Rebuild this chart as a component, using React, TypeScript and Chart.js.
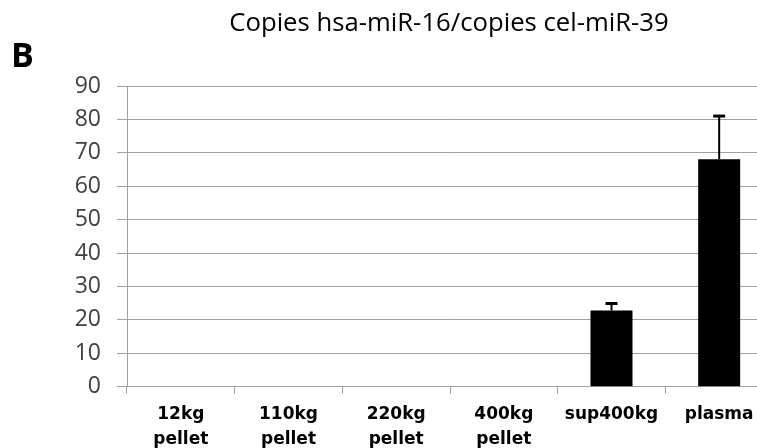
import React, { useEffect, useLayoutEffect, useRef } from 'react';
import { Chart, registerables } from 'chart.js';

Chart.register(...registerables);

// ---- data ----
const categories: string[][] = [
  ['12kg', 'pellet'],
  ['110kg', 'pellet'],
  ['220kg', 'pellet'],
  ['400kg', 'pellet'],
  ['sup400kg'],
  ['plasma'],
];
const values: number[] = [0, 0, 0, 0, 22.8, 68.1];
const errors: number[] = [0, 0, 0, 0, 2.1, 12.9];
const yMin = 0;
const yMax = 90;
const yStep = 10;
const titleText = 'Copies hsa-miR-16/copies cel-miR-39';
const panelLabel = 'B';

const GRID = '#a0a0a0';

const errorBarPlugin = {
  id: 'errorBars',
  afterDatasetsDraw(chart: any) {
    const ctx = chart.ctx;
    const meta = chart.getDatasetMeta(0);
    const yScale = chart.scales.y;
    ctx.save();
    ctx.strokeStyle = '#000';
    meta.data.forEach((bar: any, i: number) => {
      const err = errors[i];
      if (!err) return;
      const yTop = yScale.getPixelForValue(values[i] + err);
      const yBar = yScale.getPixelForValue(values[i]);
      ctx.lineWidth = 2;
      ctx.beginPath();
      ctx.moveTo(bar.x, yBar);
      ctx.lineTo(bar.x, yTop);
      ctx.stroke();
      ctx.lineWidth = 3;
      ctx.beginPath();
      ctx.moveTo(bar.x - 6, yTop);
      ctx.lineTo(bar.x + 6, yTop);
      ctx.stroke();
    });
    ctx.restore();
  },
};

const textPlugin = {
  id: 'texts',
  afterDraw(chart: any) {
    const ctx = chart.ctx;
    const area = chart.chartArea;
    ctx.save();
    ctx.fillStyle = '#000';
    ctx.textBaseline = 'alphabetic';
    ctx.textAlign = 'center';
    ctx.font = '25.7px "Open Sans"';
    ctx.fillText(titleText, (area.left + area.right) / 2 - 1, 31);
    ctx.textAlign = 'left';
    ctx.font = 'bold 34px "Open Sans"';
    ctx.fillText(panelLabel, 11, 67);
    ctx.restore();
  },
};

export default function App() {
  const ref = useRef<HTMLCanvasElement | null>(null);

  useLayoutEffect(() => {
    document.documentElement.style.overflow = 'hidden';
    document.body.style.margin = '0';
    document.body.style.overflow = 'hidden';
  }, []);

  useEffect(() => {
    if (!ref.current) return;
    const chart = new Chart(ref.current, {
      type: 'bar',
      data: {
        labels: categories,
        datasets: [
          {
            data: values,
            backgroundColor: '#000',
            borderWidth: 0,
            categoryPercentage: 1,
            barPercentage: 0.39,
          },
        ],
      },
      options: {
        responsive: false,
        animation: false,
        devicePixelRatio: 1,
        layout: { padding: { left: 0, right: 27, top: 86, bottom: 0 } },
        plugins: {
          legend: { display: false },
          title: { display: false },
          tooltip: { enabled: false },
        },
        scales: {
          x: {
            offset: true,
            grid: {
              offset: true,
              drawOnChartArea: false,
              drawTicks: true,
              tickLength: 7,
              color: GRID,
            },
            border: { color: GRID },
            ticks: {
              color: '#000',
              padding: 8,
              maxRotation: 0,
              autoSkip: false,
              font: { family: '"DejaVu Sans"', size: 17, weight: 'bold', lineHeight: 1.5 },
            },
            afterFit(scale: any) {
              scale.height = 61.3;
            },
          },
          y: {
            min: yMin,
            max: yMax,
            ticks: {
              stepSize: yStep,
              color: '#404040',
              padding: 16,
              font: { family: '"Open Sans"', size: 23 },
            },
            grid: { color: GRID, tickLength: 10 },
            border: { color: GRID },
            afterFit(scale: any) {
              scale.width = 127;
            },
          },
        },
      },
      plugins: [errorBarPlugin, textPlugin],
    });
    return () => chart.destroy();
  }, []);

  return (
    <div style={{ position: 'relative', width: 757, height: 448, overflow: 'hidden', background: '#fff' }}>
      <canvas ref={ref} width={800} height={448} style={{ display: 'block', width: 800, height: 448 }} />
    </div>
  );
}
